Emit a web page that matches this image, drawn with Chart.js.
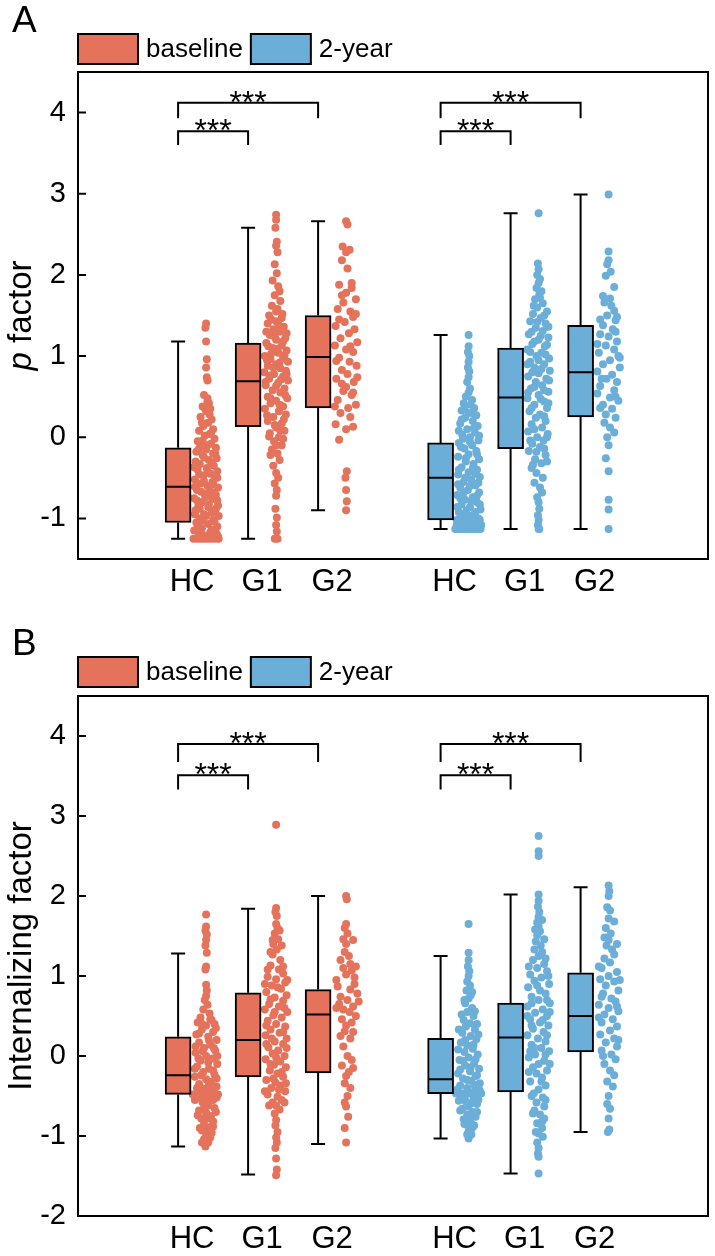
<!DOCTYPE html>
<html>
<head>
<meta charset="utf-8">
<script src="https://cdn.jsdelivr.net/npm/chart.js@4.4.1/dist/chart.umd.min.js"></script>
<style>
  body { margin: 0; background: #fff; }
  canvas { display: block; }
</style>
</head>
<body>
<canvas id="chartA" width="715" height="605"></canvas>
<canvas id="chartB" width="715" height="651"></canvas>
<script>
// categories / series
const groupLabels = ['HC', 'G1', 'G2'];
const seriesLabels = ['baseline', '2-year'];
const yTicksA = [-1, 0, 1, 2, 3, 4];
const yTicksB = [-2, -1, 0, 1, 2, 3, 4];

// box stats per group: [min, q1, median, q3, max]
const pBoxBaseline = [[-1.25, -1.05, -0.61, -0.13, 1.18], [-1.25, 0.13, 0.69, 1.16, 2.58], [-0.90, 0.36, 0.99, 1.50, 2.66]];
const pBox2year = [[-1.13, -1.02, -0.50, -0.07, 1.26], [-1.13, -0.14, 0.49, 1.10, 2.76], [-1.13, 0.25, 0.80, 1.38, 2.99]];
const intBoxBaseline = [[-1.13, -0.48, -0.24, 0.24, 1.28], [-1.48, -0.26, 0.20, 0.79, 1.84], [-1.10, -0.21, 0.52, 0.83, 2.00]];
const intBox2year = [[-1.03, -0.47, -0.29, 0.22, 1.25], [-1.47, -0.45, 0.23, 0.66, 2.02], [-0.95, 0.05, 0.50, 1.04, 2.11]];

// individual subjects: [jitter, value]
const pPtsBaselineHC = [[0,1.40],[-0.01,1.35],[0,1.18],[0.01,0.96],[0,0.86],[0.01,0.74],[0.02,0.70],[-0.03,0.52],[0.02,0.48],[0.04,0.42],[-0.05,0.38],[0.06,0.35],[0,0.32],[-0.08,0.25],[0.08,0.22],[0.03,0.18],[-0.04,0.14],[0.1,0.10],[-0.1,0.08],[0.05,0.04],[-0.02,0.02],[0.12,-0.02],[-0.12,-0.05],[0.07,-0.08],[-0.07,-0.1],[0.14,-0.13],[0,-0.15],[-0.14,-0.18],[0.1,-0.2],[-0.05,-0.22],[0.15,-0.26],[0.04,-0.28],[-0.15,-0.3],[-0.09,-0.33],[0.11,-0.35],[0.01,-0.38],[-0.12,-0.4],[0.16,-0.42],[0.06,-0.45],[-0.04,-0.47],[0.13,-0.5],[-0.16,-0.52],[0.09,-0.55],[-0.08,-0.57],[0.02,-0.6],[0.17,-0.62],[-0.13,-0.65],[0.12,-0.68],[-0.02,-0.7],[0.07,-0.73],[-0.17,-0.75],[0.16,-0.78],[-0.06,-0.8],[0.04,-0.83],[-0.11,-0.85],[0.14,-0.88],[-0.15,-0.9],[0.08,-0.93],[-0.03,-0.95],[0.18,-0.97],[-0.09,-1.0],[0.1,-1.02],[-0.14,-1.05],[0.03,-1.07],[0.16,-1.1],[-0.06,-1.12],[-0.17,-1.15],[0.06,-1.17],[0.15,-1.19],[-0.1,-1.2],[-0.18,-1.25],[-0.135,-1.25],[-0.09,-1.25],[-0.045,-1.25],[0,-1.25],[0.045,-1.25],[0.09,-1.25],[0.135,-1.25],[0.18,-1.25],
  [0.17,-1.22],[-0.02,-1.21],[0.08,-1.14],[-0.12,-1.1],[0.12,-1.04],[-0.05,-1.03],[0,-0.97],[-0.16,-0.95],[0.11,-0.91],[-0.09,-0.88],[0.03,-0.86],[0.17,-0.84],[-0.13,-0.78],[0.09,-0.76],[-0.01,-0.74],[0.14,-0.71],[-0.07,-0.67],[0.05,-0.65],[-0.16,-0.61],[0.1,-0.58],[-0.03,-0.54],[0.16,-0.5],[-0.1,-0.46],[0.02,-0.42],[-0.17,-0.37],[0.08,-0.31],[-0.03,-0.25],[0.13,-0.2],[-0.1,-0.14],[0.02,-0.1],[-0.05,-0.04],[0.07,0.05],[-0.06,0.18],[0.05,0.28],[-0.02,0.36],[0.02,0.44]];
const pPtsBaselineG1 = [[0,2.74],[0,2.68],[-0.01,2.58],[0.01,2.41],[0,2.36],[0.02,2.28],[-0.02,2.13],[0.01,2.02],[-0.05,1.93],[0.03,1.86],[0.05,1.8],[-0.02,1.75],[0.06,1.68],[-0.06,1.62],[0.02,1.58],[-0.1,1.5],[0.08,1.47],[0,1.43],[-0.12,1.4],[0.11,1.36],[-0.04,1.33],[0.05,1.3],[-0.09,1.26],[0.13,1.22],[0,1.2],[-0.14,1.16],[0.08,1.13],[-0.05,1.1],[0.15,1.07],[0.03,1.04],[-0.16,1.0],[0.1,0.98],[-0.08,0.96],[0.17,0.93],[0,0.9],[-0.12,0.88],[0.06,0.85],[0.14,0.82],[-0.17,0.8],[-0.03,0.78],[0.1,0.75],[-0.1,0.72],[0.17,0.7],[0.03,0.67],[-0.15,0.64],[0.12,0.6],[-0.05,0.58],[0.06,0.55],[-0.12,0.5],[0.16,0.48],[0,0.45],[-0.08,0.42],[0.1,0.38],[-0.16,0.35],[0.04,0.32],[0.14,0.28],[-0.04,0.25],[-0.12,0.2],[0.08,0.17],[0,0.12],[0.12,0.08],[-0.09,0.05],[0.04,0],[-0.03,-0.05],[0.08,-0.1],[-0.06,-0.15],[0.02,-0.2],[0.05,-0.28],[-0.04,-0.35],[0,-0.44],[0.03,-0.5],[-0.02,-0.57],[0.01,-0.65],[0,-0.72],[-0.01,-0.88],[0.01,-0.99],[0,-1.08],[0.01,-1.16],[-0.02,-1.25],[0.02,-1.25],
  [0,1.55],[0.09,1.52],[-0.07,1.45],[0.04,1.38],[-0.14,1.3],[0.15,1.28],[-0.02,1.24],[0.1,1.18],[-0.11,1.12],[0.02,1.09],[-0.07,1.03],[0.12,1.01],[-0.13,0.95],[0.05,0.92],[-0.04,0.86],[0.15,0.78],[-0.09,0.76],[0.07,0.71],[-0.15,0.68],[0,0.63],[0.13,0.52],[-0.08,0.48],[0.05,0.4],[-0.13,0.27],[0.11,0.22],[-0.02,0.15],[0.06,0.08],[-0.1,0.01],[0.1,-0.02],[0,-0.1],[-0.08,-0.22]];
const pPtsBaselineG2 = [[0,2.66],[0.02,2.62],[-0.05,2.35],[0.05,2.31],[0,2.28],[-0.06,2.18],[0.02,2.08],[-0.1,1.88],[0.08,1.84],[0,1.78],[0.14,1.7],[-0.04,1.66],[-0.12,1.58],[0.06,1.55],[0.1,1.48],[-0.02,1.42],[-0.15,1.37],[0.12,1.33],[0.04,1.28],[-0.08,1.22],[0.16,1.17],[-0.16,1.13],[0,1.08],[0.1,1.05],[-0.1,0.98],[0.05,0.93],[0.15,0.88],[-0.06,0.83],[0.02,0.78],[-0.14,0.72],[0.11,0.68],[0,0.62],[-0.04,0.57],[0.08,0.52],[-0.12,0.46],[0.14,0.4],[0.03,0.36],[-0.08,0.3],[0.06,0.25],[-0.15,0.16],[0.1,0.13],[0,0.1],[-0.1,-0.03],[0.01,-0.42],[-0.01,-0.5],[0,-0.65],[0.01,-0.79],[0,-0.9],
  [0.08,1.9],[-0.06,1.75],[0.14,1.52],[-0.1,1.45],[0.06,1.12],[-0.14,0.94],[0.16,0.74],[-0.06,0.66],[0.1,0.55],[-0.16,0.38]];
const pPts2yearHC = [[0,1.26],[0,1.12],[-0.01,1.05],[0.01,1.0],[0,0.93],[-0.01,0.86],[0.01,0.81],[0,0.74],[-0.02,0.68],[0.02,0.6],[0,0.55],[-0.04,0.5],[0.05,0.46],[-0.07,0.42],[0.03,0.4],[0.08,0.36],[-0.1,0.33],[0,0.3],[0.11,0.27],[-0.05,0.24],[0.06,0.2],[-0.12,0.17],[0.13,0.14],[-0.02,0.1],[0.09,0.06],[-0.09,0.03],[0.02,0],[0.14,-0.04],[-0.14,-0.07],[0.05,-0.1],[-0.06,-0.14],[0.11,-0.17],[0,-0.21],[-0.15,-0.24],[0.15,-0.27],[-0.04,-0.3],[0.07,-0.33],[-0.1,-0.37],[0.12,-0.4],[0,-0.43],[-0.15,-0.46],[0.16,-0.49],[0.04,-0.52],[-0.07,-0.55],[0.1,-0.59],[-0.12,-0.62],[-0.01,-0.65],[0.15,-0.68],[-0.16,-0.71],[0.06,-0.74],[-0.05,-0.77],[0.12,-0.8],[-0.1,-0.83],[0.02,-0.86],[0.17,-0.89],[-0.14,-0.92],[0.08,-0.95],[-0.03,-0.98],[0.14,-1.0],[-0.17,-1.02],[0.05,-1.03],[-0.08,-1.05],[0.11,-1.06],[0.18,-1.08],[-0.12,-1.09],[0,-1.1],[-0.19,-1.13],[-0.15,-1.13],[-0.11,-1.13],[-0.07,-1.13],[-0.03,-1.13],[0.01,-1.13],[0.05,-1.13],[0.09,-1.13],[0.13,-1.13],[0.17,-1.13],
  [-0.06,0.35],[0.05,0.3],[-0.1,0.22],[0.08,0.12],[-0.14,0.08],[0.15,0.02],[-0.08,-0.02],[0.02,-0.06],[-0.11,-0.12],[0.12,-0.21],[-0.04,-0.26],[0.06,-0.38],[-0.14,-0.4],[0.1,-0.45],[-0.05,-0.5],[0.14,-0.56],[-0.15,-0.58],[0.02,-0.6],[-0.07,-0.68],[0.12,-0.72],[-0.12,-0.75],[0.04,-0.79],[0.16,-0.83],[-0.03,-0.9],[-0.16,-0.86],[0.1,-0.92],[-0.08,-0.95],[0.02,-0.97],[0.16,-1.02],[-0.13,-1.0],[-0.02,-1.06],[0.08,-1.08],[-0.17,-1.08],[0.14,-1.1],[-0.06,-1.1]];
const pPts2yearG1 = [[0,2.76],[-0.01,2.14],[0,2.07],[-0.02,2.0],[0.02,1.95],[0,1.9],[-0.03,1.84],[0.04,1.8],[0.01,1.76],[-0.05,1.7],[0.06,1.65],[-0.02,1.6],[0.12,1.55],[-0.08,1.52],[0.03,1.47],[-0.12,1.43],[0.1,1.4],[-0.04,1.35],[0.06,1.31],[-0.14,1.27],[0.14,1.23],[0,1.2],[-0.09,1.15],[0.09,1.12],[-0.16,1.08],[0.04,1.04],[-0.03,1.0],[0.15,0.97],[-0.12,0.93],[0.08,0.9],[-0.06,0.86],[0.16,0.82],[0,0.79],[-0.15,0.75],[0.11,0.72],[-0.04,0.68],[0.05,0.64],[-0.11,0.6],[0.14,0.56],[0,0.52],[-0.16,0.48],[0.08,0.44],[-0.06,0.4],[0.12,0.36],[-0.13,0.32],[0.02,0.28],[-0.04,0.24],[0.1,0.2],[-0.1,0.16],[0.05,0.12],[-0.15,0.07],[0.13,0.04],[-0.02,0],[0.07,-0.04],[-0.09,-0.08],[0.02,-0.12],[-0.14,-0.17],[0.1,-0.22],[-0.05,-0.27],[0.04,-0.32],[-0.1,-0.38],[-0.03,-0.44],[0.06,-0.5],[-0.06,-0.56],[0.02,-0.62],[0.05,-0.68],[-0.02,-0.74],[0,-0.8],[0.01,-0.88],[-0.01,-0.96],[0,-1.02],[-0.01,-1.08],[0,-1.13],[0.01,-1.13],
  [0.02,1.72],[-0.07,1.62],[0.08,1.5],[-0.02,1.42],[0.14,1.36],[-0.1,1.3],[0.03,1.25],[-0.06,1.18],[0.12,1.14],[-0.12,1.05],[0.1,1.02],[0,0.95],[-0.16,0.9],[0.04,0.84],[-0.09,0.8],[0.15,0.7],[-0.06,0.62],[0.08,0.58],[-0.15,0.55],[0.03,0.47],[0.14,0.42],[-0.1,0.36],[0.08,0.26],[-0.06,0.1],[0.12,0],[-0.12,-0.04],[0.08,-0.14],[-0.03,-0.18],[0.12,-0.3],[-0.08,-0.34]];
const pPts2yearG2 = [[0,2.99],[0,2.29],[0,2.18],[-0.02,2.13],[0.03,2.04],[-0.04,1.99],[0.02,1.71],[-0.06,1.66],[0.04,1.62],[0.08,1.56],[-0.02,1.5],[0.1,1.44],[-0.08,1.38],[0.06,1.33],[-0.12,1.27],[0,1.24],[0.12,1.18],[-0.04,1.13],[0.08,1.08],[-0.14,1.04],[0.14,1.0],[0.02,0.95],[-0.08,0.9],[0.16,0.86],[-0.16,0.81],[0.05,0.77],[-0.03,0.72],[0.12,0.68],[-0.12,0.63],[0.08,0.58],[-0.16,0.54],[0.02,0.49],[0.14,0.45],[-0.08,0.4],[0.05,0.35],[-0.04,0.28],[0.1,0.24],[-0.06,0.18],[0.02,0.12],[0.08,0.06],[-0.02,0],[0,-0.1],[-0.04,-0.26],[0,-0.42],[0,-0.77],[0,-0.89],[0,-1.13],
  [0.08,1.85],[-0.08,1.74],[0.12,1.48],[-0.12,1.45],[0.1,1.3],[-0.16,1.15],[0.16,0.98],[-0.1,0.72],[0.1,0.5],[-0.12,0.36]];

const intPtsBaselineHC = [[0,1.77],[0,1.62],[-0.01,1.57],[0.01,1.52],[0,1.45],[-0.01,1.38],[0.01,1.29],[0,1.12],[-0.01,1.08],[0,0.89],[0.01,0.82],[0,0.75],[-0.02,0.7],[0.02,0.64],[-0.04,0.58],[0.05,0.53],[-0.08,0.48],[0.08,0.45],[-0.12,0.42],[0.12,0.4],[0,0.38],[-0.06,0.33],[0.1,0.3],[-0.14,0.27],[0.03,0.24],[0.15,0.2],[-0.1,0.17],[0.06,0.14],[-0.03,0.1],[0.13,0.07],[-0.15,0.04],[0,0],[0.09,-0.03],[-0.08,-0.06],[0.16,-0.1],[-0.13,-0.13],[0.04,-0.16],[-0.04,-0.2],[0.12,-0.23],[-0.16,-0.26],[0,-0.29],[0.08,-0.32],[-0.1,-0.35],[0.15,-0.38],[-0.03,-0.41],[0.05,-0.44],[-0.19,-0.48],[-0.15,-0.48],[-0.11,-0.48],[-0.07,-0.48],[-0.03,-0.48],[0.01,-0.48],[0.05,-0.48],[0.09,-0.48],[0.13,-0.48],[0.17,-0.48],[-0.12,-0.52],[0.1,-0.55],[-0.05,-0.58],[0.03,-0.62],[0.12,-0.65],[-0.1,-0.68],[0,-0.71],[0.07,-0.75],[-0.07,-0.78],[0.1,-0.82],[-0.03,-0.85],[0.04,-0.89],[-0.06,-0.93],[0.08,-0.96],[0,-1.0],[-0.03,-1.04],[0.03,-1.08],[-0.01,-1.13],
  [0.06,0.46],[-0.06,0.4],[0.14,0.35],[-0.1,0.28],[0.04,0.2],[-0.15,0.12],[0.11,0.1],[-0.05,0.06],[0.16,0],[-0.11,-0.03],[0.03,-0.08],[-0.16,-0.16],[0.1,-0.18],[-0.07,-0.24],[0.15,-0.28],[0.04,-0.36],[-0.13,-0.4],[0.11,-0.42],[-0.08,-0.44],[0.15,-0.52],[-0.16,-0.55],[0.05,-0.56],[-0.03,-0.65],[0.14,-0.7],[-0.12,-0.74],[0.02,-0.78],[0.1,-0.88],[-0.09,-0.9],[0.06,-1.02],[-0.06,-1.08],[0.02,-0.96],[-0.02,-0.54]];
const intPtsBaselineG1 = [[0,2.89],[0,1.85],[-0.01,1.8],[0.01,1.75],[0,1.65],[0.02,1.6],[-0.02,1.53],[0.03,1.46],[-0.04,1.4],[0.01,1.33],[-0.05,1.27],[0.06,1.2],[-0.08,1.13],[0.04,1.08],[0.1,1.03],[-0.12,0.99],[0,0.96],[0.13,0.92],[-0.06,0.88],[0.07,0.84],[-0.14,0.8],[0.15,0.76],[-0.02,0.73],[0.1,0.69],[-0.1,0.65],[0.04,0.62],[-0.16,0.58],[0.16,0.55],[-0.04,0.51],[0.08,0.48],[-0.12,0.44],[0,0.4],[0.13,0.37],[-0.08,0.33],[0.05,0.29],[-0.15,0.26],[0.15,0.22],[-0.02,0.18],[0.1,0.15],[-0.11,0.11],[0.03,0.07],[-0.05,0.03],[0.12,0],[-0.15,-0.04],[0.06,-0.07],[-0.03,-0.11],[0.14,-0.14],[-0.09,-0.18],[0.02,-0.22],[0.1,-0.26],[-0.14,-0.3],[-0.01,-0.33],[0.07,-0.37],[-0.07,-0.4],[0.13,-0.44],[-0.12,-0.48],[0.02,-0.51],[0.08,-0.55],[-0.05,-0.58],[0,-0.62],[0.05,-0.67],[-0.02,-0.72],[0,-0.8],[-0.01,-0.87],[0.02,-0.95],[0,-1.02],[0.01,-1.08],[-0.01,-1.15],[0,-1.28],[0.01,-1.42],[0,-1.49],
  [0.05,1.57],[-0.05,1.45],[0.08,1.38],[-0.08,1.3],[0.1,1.12],[-0.12,1.08],[0.16,0.95],[-0.16,0.9],[0.02,0.86],[-0.08,0.71],[0.12,0.6],[-0.02,0.55],[-0.14,0.38],[0.1,0.3],[-0.06,0.22],[0.15,0.1],[-0.14,0.15],[0,-0.02],[-0.08,-0.1],[0.08,-0.2],[-0.04,-0.28],[0.14,-0.34],[0.04,-0.42],[-0.16,-0.44],[0.12,-0.58],[-0.1,-0.62]];
const intPtsBaselineG2 = [[0,2.0],[0.01,1.96],[0,1.65],[-0.02,1.6],[0.02,1.53],[-0.04,1.46],[0,1.4],[-0.02,1.3],[0.04,1.25],[0.06,1.15],[-0.04,1.1],[0.08,1.07],[0,1.02],[0.12,0.98],[-0.12,0.87],[0.06,0.83],[0.16,0.78],[-0.08,0.74],[0.02,0.7],[0.18,0.68],[-0.1,0.65],[0.1,0.62],[-0.04,0.58],[0.05,0.55],[0.14,0.5],[-0.06,0.46],[0.08,0.42],[0,0.38],[-0.02,0.31],[0.06,0.22],[-0.04,0.12],[0.02,0],[0.08,-0.05],[-0.06,-0.12],[0.04,-0.2],[0,-0.25],[-0.02,-0.34],[0.06,-0.4],[0.02,-0.5],[-0.02,-0.58],[0,-0.63],[0.03,-0.76],[-0.02,-0.9],[0,-1.08],
  [0.1,1.45],[-0.08,1.2],[0.14,1.12],[-0.14,0.95],[0.12,0.9],[-0.14,0.6],[0.1,0.3],[-0.08,0.25],[0.1,-0.15]];
const intPts2yearHC = [[0,1.65],[0,1.29],[0,1.2],[-0.01,1.12],[0.01,1.06],[0,1.0],[-0.02,0.93],[0.02,0.88],[-0.03,0.82],[0.03,0.76],[0,0.72],[-0.05,0.66],[0.05,0.6],[-0.02,0.55],[0.07,0.5],[-0.07,0.45],[0.02,0.41],[-0.04,0.37],[0.09,0.33],[-0.09,0.29],[0.03,0.25],[0.11,0.21],[-0.11,0.17],[-0.02,0.13],[0.06,0.09],[-0.06,0.05],[0.13,0.02],[0,-0.02],[-0.13,-0.05],[0.08,-0.09],[-0.05,-0.12],[0.15,-0.16],[0.02,-0.19],[-0.15,-0.22],[0.1,-0.25],[-0.08,-0.28],[0.04,-0.31],[0.16,-0.34],[-0.12,-0.37],[-0.02,-0.4],[0.09,-0.43],[-0.18,-0.47],[-0.14,-0.47],[-0.1,-0.47],[-0.06,-0.47],[-0.02,-0.47],[0.02,-0.47],[0.06,-0.47],[0.1,-0.47],[0.14,-0.47],[0.18,-0.47],[-0.1,-0.51],[0.07,-0.54],[-0.04,-0.57],[0.12,-0.6],[0,-0.63],[-0.09,-0.66],[0.06,-0.7],[-0.02,-0.73],[0.1,-0.76],[-0.07,-0.79],[0.03,-0.82],[-0.03,-0.86],[0.05,-0.9],[0,-0.94],[0,-1.03],
  [0.05,0.8],[-0.06,0.7],[0.09,0.56],[-0.1,0.52],[0.12,0.4],[-0.14,0.33],[0.14,0.27],[-0.05,0.2],[0.07,0.14],[-0.15,0.08],[0.1,-0.04],[-0.08,-0.06],[0.03,-0.14],[-0.12,-0.17],[0.12,-0.24],[-0.02,-0.3],[0.08,-0.36],[-0.16,-0.42],[0.16,-0.43],[-0.06,-0.52],[0.14,-0.55],[-0.14,-0.56],[0.04,-0.59],[-0.12,-0.68],[0.12,-0.7],[0,-0.75],[-0.06,-0.85],[0.08,-0.87],[-0.02,-0.98],[0.04,-0.98]];
const intPts2yearG1 = [[0,2.75],[0,2.56],[0,2.5],[0,2.02],[0,1.94],[-0.01,1.87],[0.01,1.8],[0,1.74],[-0.02,1.67],[0,1.62],[0.02,1.56],[-0.02,1.51],[-0.04,1.43],[0.03,1.38],[-0.06,1.33],[0.05,1.3],[0,1.25],[-0.08,1.2],[0.08,1.15],[-0.02,1.1],[0.12,1.06],[-0.12,1.02],[0.04,0.98],[-0.06,0.94],[0.15,0.9],[-0.15,0.86],[0.02,0.82],[0.1,0.78],[-0.1,0.74],[0,0.7],[0.16,0.66],[-0.16,0.62],[0.06,0.58],[-0.05,0.54],[0.12,0.5],[-0.12,0.46],[0.02,0.42],[0.14,0.38],[-0.08,0.34],[0.07,0.3],[-0.16,0.26],[-0.01,0.22],[0.1,0.18],[-0.1,0.14],[0.04,0.1],[0.15,0.06],[-0.05,0.02],[-0.14,-0.02],[0.08,-0.06],[0,-0.1],[-0.08,-0.14],[0.12,-0.18],[-0.03,-0.22],[0.05,-0.27],[-0.12,-0.32],[0.1,-0.37],[0,-0.42],[-0.07,-0.47],[0.06,-0.52],[-0.03,-0.58],[0.08,-0.63],[-0.06,-0.68],[0.02,-0.73],[0.08,-0.78],[-0.02,-0.84],[0.05,-0.9],[0,-0.97],[0.06,-1.01],[-0.02,-1.08],[0,-1.15],[-0.01,-1.22],[0,-1.26],[0,-1.47],
  [0.05,1.7],[-0.05,1.58],[0.08,1.46],[0.1,1.22],[-0.14,1.12],[0.14,1.0],[-0.02,0.88],[0.12,0.7],[-0.1,0.66],[0.16,0.55],[-0.16,0.5],[0.06,0.45],[-0.1,0.38],[0.12,0.26],[-0.06,0.1],[0.1,0.02],[-0.12,0.06],[0.16,-0.1],[-0.14,-0.2],[0.04,-0.32],[-0.1,-0.5],[0.1,-0.55],[-0.08,-0.72],[0.05,-0.82],[-0.04,-0.95]];
const intPts2yearG2 = [[0,2.13],[0.01,2.06],[0,2.0],[-0.02,1.86],[0.02,1.82],[0,1.72],[-0.04,1.6],[0.03,1.53],[0,1.45],[-0.03,1.38],[0.05,1.33],[0.08,1.27],[-0.06,1.22],[0.02,1.17],[-0.1,1.1],[0.12,1.05],[0,1.0],[-0.12,0.96],[0.08,0.93],[-0.04,0.88],[0.14,0.82],[-0.08,0.78],[0.04,0.72],[0.1,0.68],[-0.14,0.64],[0,0.6],[0.14,0.56],[-0.06,0.52],[0.06,0.46],[-0.1,0.42],[0.12,0.37],[0.02,0.32],[-0.12,0.27],[0.08,0.22],[-0.04,0.17],[0.12,0.12],[-0.1,0.07],[0.04,0.02],[0.1,-0.04],[-0.06,-0.1],[0.02,-0.18],[0.08,-0.24],[-0.02,-0.32],[0.06,-0.38],[0,-0.5],[-0.02,-0.6],[0.02,-0.66],[0,-0.78],[0.01,-0.92],[-0.01,-0.95],
  [0.08,1.68],[-0.06,1.48],[0.12,1.4],[-0.14,1.12],[0.16,0.95],[-0.1,0.74],[0.12,0.62],[-0.14,0.48],[0.14,0.2],[-0.08,0]];

// layout (x axis units): slot of each group, baseline block then 2-year block
const slotX = [[1, 2, 3], [4.75, 5.75, 6.75]];
const boxShift = -0.2, ptShift = 0.2;
const colors = ['#E5735B', '#6BAFD9'];
const FONT = '"Liberation Sans", Arial, sans-serif';

Chart.defaults.color = '#000';
Chart.defaults.font.family = FONT;

// whiskers, medians, brackets, frame, ticks, legend, letter, axis title
const boxPlotExtras = {
  id: 'boxPlotExtras',
  afterDatasetsDraw(chart, args, o) {
    const { ctx, scales: { x, y } } = chart;
    ctx.save();
    ctx.strokeStyle = '#000';
    ctx.lineWidth = 2;
    o.stats.forEach((series, s) => {
      series.forEach((st, g) => {
        const cx = x.getPixelForValue(slotX[s][g] + boxShift);
        const [mn, q1, md, q3, mx] = st.map(v => y.getPixelForValue(v));
        ctx.beginPath();
        ctx.moveTo(cx, q3); ctx.lineTo(cx, mx);
        ctx.moveTo(cx, q1); ctx.lineTo(cx, mn);
        ctx.moveTo(cx - 7, mx); ctx.lineTo(cx + 7, mx);
        ctx.moveTo(cx - 7, mn); ctx.lineTo(cx + 7, mn);
        ctx.moveTo(cx - 12, md); ctx.lineTo(cx + 12, md);
        ctx.stroke();
      });
    });
    // significance brackets
    ctx.font = '32px ' + FONT;
    ctx.fillStyle = '#000';
    ctx.textAlign = 'center';
    ctx.textBaseline = 'alphabetic';
    [0, 1].forEach(s => {
      o.brackets.forEach(b => {
        const x1 = x.getPixelForValue(slotX[s][b.from] + boxShift);
        const x2 = x.getPixelForValue(slotX[s][b.to] + boxShift);
        const yl = y.getPixelForValue(b.y);
        const yd = y.getPixelForValue(b.y - b.drop);
        ctx.beginPath();
        ctx.moveTo(x1, yd); ctx.lineTo(x1, yl); ctx.lineTo(x2, yl); ctx.lineTo(x2, yd);
        ctx.stroke();
        ctx.fillText(b.text, (x1 + x2) / 2, yl + 10);
      });
    });
    ctx.restore();
  },
  afterDraw(chart, args, o) {
    const { ctx, chartArea: a, scales: { y } } = chart;
    ctx.save();
    ctx.strokeStyle = '#000';
    ctx.lineWidth = 2;
    ctx.strokeRect(a.left, a.top, a.right - a.left, a.bottom - a.top);

    // inward y ticks
    ctx.beginPath();
    y.ticks.forEach(t => {
      const py = y.getPixelForValue(t.value);
      ctx.moveTo(a.left, py);
      ctx.lineTo(a.left + 8, py);
    });
    ctx.stroke();

    // panel letter
    ctx.fillStyle = '#000';
    ctx.font = '37px ' + FONT;
    ctx.textBaseline = 'alphabetic';
    ctx.textAlign = 'left';
    ctx.fillText(o.letter, 12, o.legendTop - 2);

    // legend from the box datasets
    ctx.font = '26px ' + FONT;
    ctx.textBaseline = 'middle';
    let lx = a.left;
    chart.data.datasets.filter(d => d.type === 'bar').forEach(d => {
      ctx.fillStyle = d.backgroundColor;
      ctx.fillRect(lx, o.legendTop, 60, 30);
      ctx.strokeRect(lx, o.legendTop, 60, 30);
      ctx.fillStyle = '#000';
      ctx.fillText(d.label, lx + 68, o.legendTop + 16);
      lx += 68 + ctx.measureText(d.label).width + 8;
    });

    // y axis title (rotated, may mix italic)
    ctx.translate(22, (a.top + a.bottom) / 2);
    ctx.rotate(-Math.PI / 2);
    const parts = o.title.map(p => {
      ctx.font = (p.italic ? 'italic ' : '') + '33px ' + FONT;
      return { ...p, w: ctx.measureText(p.text).width };
    });
    let tx = -parts.reduce((s, p) => s + p.w, 0) / 2;
    parts.forEach(p => {
      ctx.font = (p.italic ? 'italic ' : '') + '33px ' + FONT;
      ctx.fillText(p.text, tx, 0);
      tx += p.w;
    });
    ctx.restore();
  }
};

function makePanel(id, cfg) {
  const datasets = [];
  cfg.boxes.forEach((series, s) => {
    datasets.push({
      type: 'bar',
      label: seriesLabels[s],
      data: series.map((st, g) => ({ x: slotX[s][g] + boxShift, y: [st[1], st[3]] })),
      backgroundColor: colors[s],
      borderColor: '#000',
      borderWidth: 2,
      borderSkipped: false,
      barThickness: 26,
      grouped: false
    });
  });
  cfg.points.forEach((series, s) => {
    const pts = [];
    series.forEach((grp, g) => grp.forEach(([dx, v]) => pts.push({ x: slotX[s][g] + ptShift + dx, y: v })));
    datasets.push({
      type: 'scatter',
      label: seriesLabels[s] + ' subjects',
      data: pts,
      pointRadius: 4,
      pointBorderWidth: 0,
      pointBackgroundColor: colors[s],
      backgroundColor: colors[s]
    });
  });

  return new Chart(document.getElementById(id), {
    type: 'scatter',
    data: { datasets },
    plugins: [boxPlotExtras],
    options: {
      responsive: false,
      animation: false,
      layout: { padding: { top: cfg.padTop, left: 0, right: 7, bottom: 0 } },
      plugins: {
        legend: { display: false },
        tooltip: { enabled: false },
        boxPlotExtras: {
          stats: cfg.boxes,
          brackets: cfg.brackets,
          letter: cfg.letter,
          legendTop: cfg.legendTop,
          title: cfg.title
        }
      },
      scales: {
        x: {
          type: 'linear',
          min: 0.12,
          max: 7.62,
          afterFit: s => { s.height = cfg.axisH; },
          afterBuildTicks: s => { s.ticks = slotX.flat().map(v => ({ value: v })); },
          grid: { display: false, drawTicks: false },
          border: { display: false },
          ticks: {
            autoSkip: false,
            maxRotation: 0,
            padding: 5,
            font: { size: 31 },
            callback: (v, i) => groupLabels[i % 3]
          }
        },
        y: {
          min: cfg.yMin,
          max: 4.5,
          afterFit: s => { s.width = 78; },
          afterBuildTicks: s => { s.ticks = cfg.yTicks.map(v => ({ value: v })); },
          grid: { display: false, drawTicks: false },
          border: { display: false },
          ticks: { padding: 12, font: { size: 29 }, callback: v => String(v) }
        }
      }
    }
  });
}

makePanel('chartA', {
  letter: 'A',
  legendTop: 34,
  padTop: 72,
  axisH: 46,
  yMin: -1.5,
  yTicks: yTicksA,
  title: [{ text: 'p', italic: true }, { text: ' factor' }],
  boxes: [pBoxBaseline, pBox2year],
  points: [[pPtsBaselineHC, pPtsBaselineG1, pPtsBaselineG2], [pPts2yearHC, pPts2yearG1, pPts2yearG2]],
  brackets: [{ from: 0, to: 1, y: 3.77, drop: 0.17, text: '***' }, { from: 0, to: 2, y: 4.12, drop: 0.19, text: '***' }]
});

makePanel('chartB', {
  letter: 'B',
  legendTop: 52,
  padTop: 91,
  axisH: 40,
  yMin: -2,
  yTicks: yTicksB,
  title: [{ text: 'Internalizing factor' }],
  boxes: [intBoxBaseline, intBox2year],
  points: [[intPtsBaselineHC, intPtsBaselineG1, intPtsBaselineG2], [intPts2yearHC, intPts2yearG1, intPts2yearG2]],
  brackets: [{ from: 0, to: 1, y: 3.51, drop: 0.18, text: '***' }, { from: 0, to: 2, y: 3.9, drop: 0.225, text: '***' }]
});
</script>
</body>
</html>
